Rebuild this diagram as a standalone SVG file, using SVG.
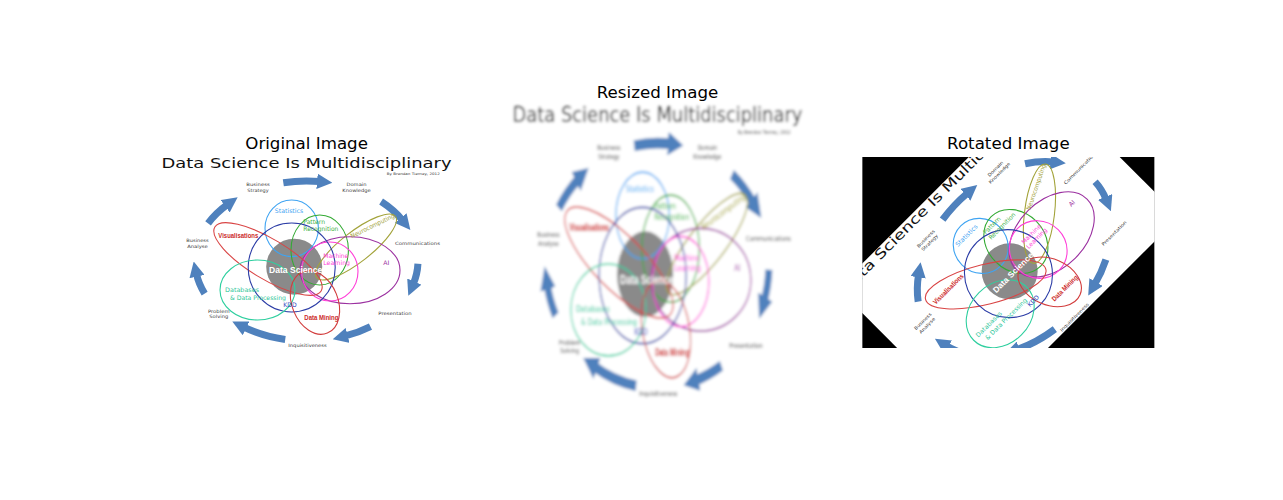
<svg xmlns="http://www.w3.org/2000/svg" width="1283" height="500" viewBox="0 0 1283 500">
<style>
.ttl{font-family:"DejaVu Sans",sans-serif;font-size:16.67px;fill:#000;text-anchor:middle}
.lab{font-family:"DejaVu Sans",sans-serif;font-size:4.5px;fill:#404040;text-anchor:middle}
.cl{font-family:"DejaVu Sans",sans-serif;font-size:6.2px}
.bd{font-family:"Liberation Sans",Arial,sans-serif;font-weight:bold;font-size:7px;fill:#cc2a2a;text-anchor:middle}
.el{fill:none;stroke-width:1.1}
.arr{fill:none;stroke:#4f81bd;stroke-width:7;marker-end:url(#ah)}
</style>
<defs>
<marker id="ah" viewBox="0 0 10 10" refX="2" refY="5" markerWidth="2.2" markerHeight="2.2" orient="auto" markerUnits="strokeWidth"><path d="M0,0 L10,5 L0,10 z" fill="#4f81bd"/></marker>
<filter id="blur" x="-5%" y="-5%" width="110%" height="110%"><feGaussianBlur stdDeviation="1.6"/></filter>
<clipPath id="clip3"><rect x="862.2" y="157" width="292.4" height="191"/></clipPath>
<g id="img">
<rect x="160.4" y="157" width="292.4" height="191" fill="#fff"/>
<text x="161.5" y="167.5" textLength="290" lengthAdjust="spacingAndGlyphs" font-family="DejaVu Sans, sans-serif" font-size="13.5" fill="#111">Data Science Is Multidisciplinary</text>
<text x="413.3" y="175" font-family="DejaVu Sans, sans-serif" font-size="3.4" fill="#333" text-anchor="middle" textLength="53" lengthAdjust="spacingAndGlyphs">By Brendan Tierney, 2012</text>
<g id="cycle">
<path class="arr" d="M283.32,182.75 A111.5 80 0 0 1 320.09,181.6"/>
<path class="arr" d="M381.1,201.55 A111.5 80 0 0 1 402.57,220.4"/>
<path class="arr" d="M417.93,263.79 A111.5 80 0 0 1 413.13,284.39"/>
<path class="arr" d="M370.45,326.53 A111.5 80 0 0 1 344.63,336.17"/>
<path class="arr" d="M285.23,339.53 A111.5 80 0 0 1 243.35,326.93"/>
<path class="arr" d="M204.64,293.54 A111.5 80 0 0 1 196.37,273.51"/>
<path class="arr" d="M208.06,223.44 A111.5 80 0 0 1 227.66,204.43"/>
</g>
<g id="cycle-labels">
<text class="lab" x="258" y="185.8" textLength="23.3" lengthAdjust="spacingAndGlyphs">Business</text>
<text class="lab" x="258" y="191.5" textLength="21.3" lengthAdjust="spacingAndGlyphs">Strategy</text>
<text class="lab" x="356.5" y="185.8" textLength="20" lengthAdjust="spacingAndGlyphs">Domain</text>
<text class="lab" x="356.5" y="191.5" textLength="28.3" lengthAdjust="spacingAndGlyphs">Knowledge</text>
<text class="lab" x="417.5" y="245.2" textLength="45" lengthAdjust="spacingAndGlyphs">Communications</text>
<text class="lab" x="395" y="315.2" textLength="33.3" lengthAdjust="spacingAndGlyphs">Presentation</text>
<text class="lab" x="307.5" y="346.5" textLength="38.3" lengthAdjust="spacingAndGlyphs">Inquisitiveness</text>
<text class="lab" x="218.8" y="313" textLength="21.7" lengthAdjust="spacingAndGlyphs">Problem</text>
<text class="lab" x="218.8" y="318.2" textLength="19" lengthAdjust="spacingAndGlyphs">Solving</text>
<text class="lab" x="197.5" y="242.2" textLength="22.3" lengthAdjust="spacingAndGlyphs">Business</text>
<text class="lab" x="197.5" y="248.2" textLength="20.7" lengthAdjust="spacingAndGlyphs">Analyse</text>
</g>
<circle id="ds" cx="294.2" cy="266.7" r="28" fill="#8a8a8a"/>
<g id="venn">
<ellipse class="el" cx="291.7" cy="228.3" rx="26.7" ry="28.3" stroke="#3fa4f2"/>
<ellipse class="el" cx="319.7" cy="250" rx="28.7" ry="35" stroke="#33aa33"/>
<ellipse class="el" cx="356" cy="247" rx="50" ry="15" transform="rotate(-38 356 247)" stroke="#a3a33a"/>
<ellipse class="el" cx="350" cy="270.3" rx="50" ry="33.5" stroke="#9b30a0"/>
<ellipse class="el" cx="329.8" cy="271.5" rx="28.2" ry="29.5" stroke="#ff3fd8"/>
<ellipse class="el" cx="268" cy="259" rx="62" ry="20" transform="rotate(31 268 259)" stroke="#d94545"/>
<ellipse class="el" cx="291.7" cy="267.5" rx="43.5" ry="44.5" stroke="#2b3ca6"/>
<ellipse class="el" cx="257.5" cy="290" rx="37.5" ry="30" stroke="#2fcf9f"/>
<ellipse class="el" cx="315" cy="302.5" rx="23" ry="33" transform="rotate(-22 315 302.5)" stroke="#d23c3c"/>
</g>
<g id="venn-labels">
<text class="cl" x="289" y="213" text-anchor="middle" fill="#3fa4f2" textLength="28.3" lengthAdjust="spacingAndGlyphs">Statistics</text>
<text class="cl" x="303.3" y="223.8" fill="#3cb043" textLength="21.7" lengthAdjust="spacingAndGlyphs">Pattern</text>
<text class="cl" x="303.3" y="231.4" fill="#3cb043" textLength="35" lengthAdjust="spacingAndGlyphs">Recognition</text>
<text class="cl" x="372.5" y="228" text-anchor="middle" fill="#a3a33a" font-size="5.6" textLength="48" lengthAdjust="spacingAndGlyphs" transform="rotate(-26 372.5 226)">Neurocomputing</text>
<text class="cl" x="383.3" y="264.8" fill="#9b30a0" font-size="6.5">AI</text>
<text class="cl" x="323.3" y="257.8" fill="#ff3fd8" textLength="25" lengthAdjust="spacingAndGlyphs">Machine</text>
<text class="cl" x="323.3" y="264.6" fill="#ff3fd8" textLength="26.7" lengthAdjust="spacingAndGlyphs">Learning</text>
<text class="bd" x="238.3" y="238.2" textLength="40" lengthAdjust="spacingAndGlyphs">Visualisations</text>
<text class="cl" x="290" y="306.5" text-anchor="middle" fill="#3344bb" textLength="13.4" lengthAdjust="spacingAndGlyphs">KDD</text>
<text class="cl" x="225" y="291.6" fill="#2fc79a" textLength="34" lengthAdjust="spacingAndGlyphs">Databases</text>
<text class="cl" x="230" y="300" fill="#2fc79a" textLength="56" lengthAdjust="spacingAndGlyphs">&amp; Data Processing</text>
<text class="bd" x="321.3" y="320" textLength="34" lengthAdjust="spacingAndGlyphs">Data Mining</text>
<text x="295.7" y="272.8" font-family="Liberation Sans, Arial, sans-serif" font-weight="bold" font-size="8.2" fill="#fff" text-anchor="middle" textLength="53.3" lengthAdjust="spacingAndGlyphs">Data Science</text>
</g>
</g>
</defs>
<g id="panel-original">
<use href="#img"/>
<text class="ttl" x="306.6" y="148.7">Original Image</text>
</g>
<g id="panel-resized">
<g filter="url(#blur)"><use href="#img" transform="translate(511.3 106.3) scale(1 1.5309) translate(-160.4 -157)"/></g>
<text class="ttl" x="657.5" y="98">Resized Image</text>
</g>
<g id="panel-rotated">
<g clip-path="url(#clip3)">
<rect x="862.2" y="157" width="292.4" height="191" fill="#000"/>
<use href="#img" transform="rotate(-45 1008.4 252.5) translate(701.8 0)"/>
</g>
<text class="ttl" x="1008.4" y="148.7">Rotated Image</text>
</g>
</svg>
